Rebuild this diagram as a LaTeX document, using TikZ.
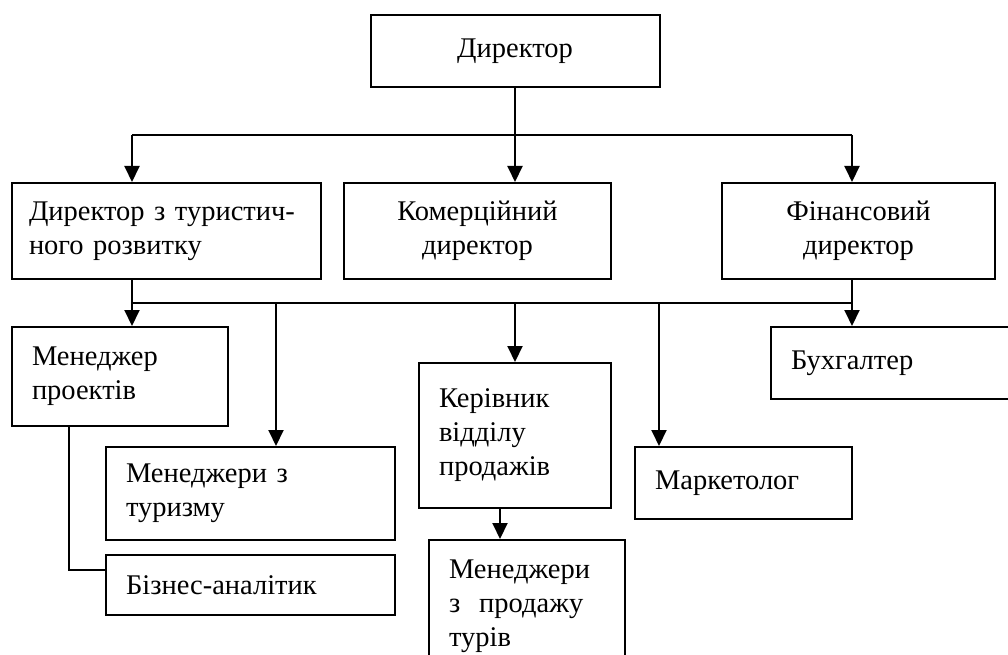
\documentclass[tikz,border=0pt]{standalone}
\usepackage{fontspec}
\setmainfont{Liberation Serif}
\usetikzlibrary{arrows.meta}
\tikzset{
  box/.style={draw, line width=2pt, inner xsep=20pt, inner ysep=0pt,
    font=\fontsize{28.5pt}{34pt}\selectfont},
  lbox/.style={box, align=left},
  cbox/.style={box, align=center},
  arr/.style={-{Triangle[length=16pt,width=15pt]}}
}
\begin{document}
\begin{tikzpicture}[x=1pt,y=-1pt]
      \useasboundingbox[fill=white] (0,0) rectangle (1008,655);
      \draw
        (515,51) node[cbox,text width=249pt,minimum height=72pt] (dir){Директор}
        (166.5,231) node[lbox,inner xsep=17pt,text width=275pt,minimum height=96pt] (dtr){Директор з туристич-\\ного розвитку}
        (477.5,231) node[cbox,text width=227pt,minimum height=96pt] (kom){Комерційний\\директор}
        (858.5,231) node[cbox,text width=233pt,minimum height=96pt] (fin){Фінансовий\\директор}
        (120,376.5) node[lbox,text width=176pt,minimum height=99pt] (mp){Менеджер\\проектів}
        (250.5,493.5) node[lbox,text width=249pt,minimum height=93pt] (mt){Менеджери з\\туризму}
        (250.5,585) node[lbox,text width=249pt,minimum height=60pt] (ba){Бізнес-аналітик}
        (515,435.5) node[lbox,text width=152pt,minimum height=145pt] (kv){Керівник\\відділу\\продажів}
        (527,606) node[lbox,text width=156pt,minimum height=132pt] (mpt){Менеджери\\з~\ продажу\\турів}
        (743.5,483) node[lbox,text width=177pt,minimum height=72pt] (mk){Маркетолог}
        (891.5,363) node[lbox,text width=201pt,minimum height=72pt] (bh){Бухгалтер};
      \coordinate (b1) at (0,135);
      \coordinate (b2) at (0,303);
      \coordinate (cA) at (132,0);
      \coordinate (cB) at (276,0);
      \coordinate (cC) at (515,0);
      \coordinate (cD) at (659,0);
      \coordinate (cE) at (852,0);
      \begin{scope}[line width=2pt]
        \draw (dir) to (dir.south |- b1);
        \draw (cA |- b1) to (cE |- b1);
        \draw[arr] (cA |- b1) to (cA |- dtr.north);
        \draw[arr] (cC |- b1) to (cC |- kom.north);
        \draw[arr] (cE |- b1) to (cE |- fin.north);
        \draw (cA |- dtr.south) to (cA |- b2);
        \draw (cE |- fin.south) to (cE |- b2);
        \draw (cA |- b2) to (cE |- b2);
        \draw[arr] (cA |- b2) to (cA |- mp.north);
        \draw[arr] (cB |- b2) to (cB |- mt.north);
        \draw[arr] (cC |- b2) to (kv);
        \draw[arr] (cD |- b2) to (cD |- mk.north);
        \draw[arr] (cE |- b2) to (cE |- bh.north);
        \draw[arr] ([xshift=-15pt]kv.south) to ([xshift=-15pt]kv.south |- mpt.north);
        \draw ([xshift=-51pt]mp.south) |- ([yshift=15pt]ba.west);
      \end{scope}
    \end{tikzpicture}
\end{document}
